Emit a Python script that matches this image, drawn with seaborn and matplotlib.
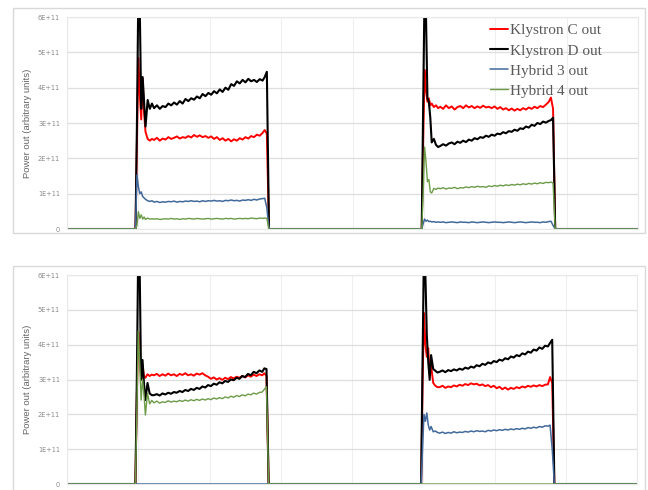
import matplotlib
matplotlib.use("Agg")
import matplotlib.pyplot as plt
import seaborn as sns
from matplotlib.patches import Rectangle
from matplotlib.ticker import FuncFormatter, MultipleLocator

# -------------------------------------------------------------------
# Data (power in units of 1E+11, time in samples)
# -------------------------------------------------------------------

X_MAX = 800
PULSE_STARTS = [96, 497]
PULSE_OFFSETS = [0, 2, 4, 6, 8, 10, 12, 14, 17, 20, 23,
                 26, 30, 34, 38, 42, 46, 50, 54, 58, 62, 66, 70, 74, 78,
                 82, 86, 90, 94, 98, 102, 106, 110, 114, 118, 122, 126,
                 130, 134, 138, 142, 146, 150, 154, 158, 162, 166, 170,
                 174, 178, 181, 184, 187]

SERIES_NAMES = ["Klystron C out", "Klystron D out", "Hybrid 3 out", "Hybrid 4 out"]
SERIES_COLORS = ["#FF0000", "#000000", "#41699B", "#6B9B47"]
SERIES_WIDTHS = [1.4, 1.5, 1.1, 1.0]

# top chart
TOP_KC_P1 = [0, 2.5, 4.84, 3.8, 3.1, 4.25, 3.3, 2.75, 2.55, 2.5, 2.55,
             2.52, 2.58, 2.50, 2.56, 2.53, 2.60, 2.55, 2.58, 2.62, 2.56,
             2.60, 2.58, 2.63, 2.59, 2.66, 2.61, 2.65, 2.60, 2.63, 2.58,
             2.62, 2.55, 2.60, 2.52, 2.57, 2.50, 2.55, 2.48, 2.54, 2.50,
             2.57, 2.53, 2.60, 2.56, 2.63, 2.60, 2.67, 2.64, 2.72,
             2.80, 2.7, 0]
TOP_KD_P1 = [0, 3.0, 6.8, 6.2, 3.4, 4.3, 3.6, 2.9, 3.65, 3.4, 3.55,
             3.42, 3.50, 3.40, 3.48, 3.45, 3.55, 3.50, 3.58, 3.52, 3.62,
             3.55, 3.68, 3.62, 3.70, 3.66, 3.75, 3.70, 3.82, 3.76, 3.85,
             3.80, 3.90, 3.84, 3.95, 3.88, 4.00, 3.94, 4.10, 4.05, 4.18,
             4.12, 4.22, 4.15, 4.25, 4.18, 4.22, 4.16, 4.24, 4.20,
             4.30, 4.45, 0]
TOP_H3_P1 = [0, 1.53, 1.2, 1.0, 1.05, 0.92, 0.88, 0.84, 0.80, 0.78, 0.80,
             0.76, 0.78, 0.75, 0.77, 0.76, 0.78, 0.77, 0.79, 0.76, 0.78,
             0.77, 0.79, 0.78, 0.80, 0.78, 0.79, 0.77, 0.80, 0.78, 0.80,
             0.79, 0.81, 0.79, 0.80, 0.78, 0.81, 0.80, 0.82, 0.80, 0.81,
             0.79, 0.82, 0.81, 0.83, 0.81, 0.84, 0.82, 0.85, 0.86,
             0.87, 0.6, 0]
TOP_H4_P1 = [0, 0.1, 0.49, 0.3, 0.4, 0.28, 0.34, 0.27, 0.31, 0.28, 0.29,
             0.28, 0.29, 0.27, 0.28, 0.29, 0.28, 0.30, 0.28, 0.29, 0.27,
             0.29, 0.28, 0.30, 0.29, 0.28, 0.30, 0.29, 0.28, 0.29, 0.30,
             0.28, 0.29, 0.30, 0.29, 0.28, 0.30, 0.29, 0.30, 0.28, 0.29,
             0.30, 0.29, 0.30, 0.29, 0.31, 0.30, 0.29, 0.31, 0.30,
             0.31, 0.30, 0]
TOP_KC_P2 = [0, 2.5, 4.5, 3.9, 3.6, 3.7, 3.5, 3.55, 3.45, 3.5, 3.42,
             3.46, 3.40, 3.50, 3.42, 3.47, 3.38, 3.45, 3.48, 3.42, 3.50,
             3.44, 3.48, 3.42, 3.47, 3.43, 3.49, 3.44, 3.46, 3.42, 3.47,
             3.40, 3.45, 3.38, 3.42, 3.36, 3.41, 3.35, 3.40, 3.36, 3.42,
             3.38, 3.44, 3.40, 3.46, 3.42, 3.48, 3.45, 3.52, 3.60,
             3.72, 3.4, 0]
TOP_KD_P2 = [0, 3.5, 6.8, 6.0, 3.7, 3.6, 3.15, 2.45, 2.55, 2.38, 2.32,
             2.35, 2.40, 2.36, 2.42, 2.45, 2.40, 2.47, 2.44, 2.50, 2.46,
             2.53, 2.50, 2.57, 2.54, 2.60, 2.58, 2.64, 2.61, 2.67, 2.64,
             2.70, 2.68, 2.74, 2.71, 2.77, 2.75, 2.81, 2.78, 2.85, 2.83,
             2.90, 2.87, 2.95, 2.92, 3.00, 2.97, 3.04, 3.01, 3.06,
             3.08, 3.15, 0]
TOP_H3_P2 = [0, 0.15, 0.28, 0.22, 0.25, 0.21, 0.22, 0.20, 0.21, 0.19, 0.20,
             0.19, 0.20, 0.18, 0.19, 0.20, 0.19, 0.18, 0.20, 0.19, 0.19,
             0.18, 0.20, 0.19, 0.18, 0.19, 0.20, 0.19, 0.18, 0.19, 0.20,
             0.19, 0.19, 0.18, 0.19, 0.20, 0.19, 0.18, 0.19, 0.20, 0.19,
             0.18, 0.19, 0.20, 0.19, 0.19, 0.18, 0.20, 0.19, 0.21,
             0.22, 0.1, 0]
TOP_H4_P2 = [0, 1.0, 2.32, 1.9, 1.34, 1.4, 1.05, 1.02, 1.15, 1.12, 1.16,
             1.14, 1.17, 1.13, 1.16, 1.15, 1.18, 1.14, 1.17, 1.16, 1.19,
             1.17, 1.20, 1.18, 1.21, 1.19, 1.20, 1.18, 1.22, 1.20, 1.23,
             1.21, 1.24, 1.22, 1.25, 1.23, 1.26, 1.24, 1.27, 1.25, 1.28,
             1.26, 1.29, 1.27, 1.30, 1.28, 1.31, 1.29, 1.32, 1.31,
             1.33, 1.30, 0]

# bottom chart (None = output stays at zero for that pulse)
BOT_KC_P1 = [0, 2.5, 4.37, 3.8, 2.99, 3.4, 3.1, 3.05, 3.15, 3.1, 3.14,
             3.12, 3.16, 3.10, 3.15, 3.11, 3.17, 3.12, 3.15, 3.10, 3.16,
             3.13, 3.18, 3.12, 3.15, 3.11, 3.17, 3.14, 3.18, 3.12, 3.08,
             3.02, 3.06, 3.00, 3.04, 2.99, 3.05, 3.01, 3.07, 3.03, 3.08,
             3.05, 3.10, 3.06, 3.12, 3.08, 3.14, 3.10, 3.15, 3.12,
             3.18, 3.1, 0]
BOT_KD_P1 = [0, 3.0, 6.8, 6.2, 3.0, 3.56, 2.9, 2.41, 2.9, 2.6, 2.55,
             2.55, 2.58, 2.54, 2.60, 2.57, 2.62, 2.59, 2.64, 2.62, 2.67,
             2.64, 2.70, 2.67, 2.73, 2.70, 2.76, 2.73, 2.80, 2.77, 2.84,
             2.81, 2.88, 2.85, 2.92, 2.89, 2.96, 2.93, 3.00, 2.98, 3.05,
             3.02, 3.10, 3.07, 3.16, 3.12, 3.22, 3.18, 3.26, 3.22,
             3.32, 3.3, 0]
BOT_H3_P1 = None
BOT_H4_P1 = [0, 2.0, 4.4, 3.5, 2.41, 3.0, 2.6, 1.98, 2.6, 2.3, 2.4,
             2.33, 2.38, 2.32, 2.36, 2.34, 2.39, 2.35, 2.38, 2.36, 2.40,
             2.37, 2.41, 2.38, 2.42, 2.39, 2.43, 2.40, 2.44, 2.41, 2.45,
             2.42, 2.47, 2.44, 2.48, 2.45, 2.50, 2.47, 2.52, 2.49, 2.54,
             2.51, 2.56, 2.53, 2.58, 2.56, 2.61, 2.58, 2.63, 2.64,
             2.72, 2.79, 0]
BOT_KC_P2 = [0, 2.8, 4.91, 4.0, 3.65, 3.9, 3.2, 3.4, 2.9, 2.82, 2.78,
             2.78, 2.82, 2.76, 2.80, 2.78, 2.83, 2.80, 2.85, 2.82, 2.87,
             2.84, 2.89, 2.86, 2.88, 2.83, 2.86, 2.81, 2.84, 2.78, 2.82,
             2.75, 2.79, 2.72, 2.77, 2.71, 2.76, 2.73, 2.78, 2.75, 2.80,
             2.77, 2.82, 2.79, 2.83, 2.80, 2.84, 2.81, 2.85, 2.86,
             3.07, 2.9, 0]
BOT_KD_P2 = [0, 3.5, 6.8, 6.0, 4.28, 3.5, 2.99, 3.7, 3.3, 3.25, 3.2,
             3.22, 3.26, 3.21, 3.27, 3.24, 3.29, 3.26, 3.31, 3.28, 3.34,
             3.31, 3.37, 3.34, 3.41, 3.38, 3.45, 3.42, 3.49, 3.46, 3.53,
             3.50, 3.57, 3.54, 3.61, 3.58, 3.66, 3.63, 3.70, 3.67, 3.75,
             3.72, 3.80, 3.77, 3.86, 3.83, 3.92, 3.88, 3.97, 3.95,
             4.05, 4.14, 0]
BOT_H3_P2 = [0, 1.0, 2.0, 1.8, 2.04, 1.7, 1.55, 1.65, 1.5, 1.52, 1.48,
             1.46, 1.49, 1.45, 1.48, 1.46, 1.50, 1.47, 1.49, 1.48, 1.51,
             1.49, 1.52, 1.50, 1.53, 1.51, 1.52, 1.50, 1.54, 1.52, 1.55,
             1.53, 1.56, 1.54, 1.57, 1.55, 1.58, 1.56, 1.59, 1.57, 1.60,
             1.58, 1.62, 1.60, 1.63, 1.61, 1.65, 1.63, 1.67, 1.66,
             1.69, 1.0, 0]
BOT_H4_P2 = None

TOP_PULSES = [[TOP_KC_P1, TOP_KC_P2], [TOP_KD_P1, TOP_KD_P2],
              [TOP_H3_P1, TOP_H3_P2], [TOP_H4_P1, TOP_H4_P2]]
BOT_PULSES = [[BOT_KC_P1, BOT_KC_P2], [BOT_KD_P1, BOT_KD_P2],
              [BOT_H3_P1, BOT_H3_P2], [BOT_H4_P1, BOT_H4_P2]]

Y_TICKS = [0, 1, 2, 3, 4, 5, 6]


def build_series(pulses):
    """Join the pulses of one output into a single trace on a zero baseline."""
    t = [0.0]
    v = [0.0]
    for start, vals in zip(PULSE_STARTS, pulses):
        if vals is None:
            continue
        assert len(vals) == len(PULSE_OFFSETS)
        t += [start + o for o in PULSE_OFFSETS]
        v += [x * 1e11 for x in vals]
    t.append(X_MAX)
    v.append(0.0)
    return t, v


def style_axes(ax):
    ax.set_xlim(0, X_MAX)
    ax.set_ylim(0, 6e11)
    ax.set_yticks([y * 1e11 for y in Y_TICKS])
    ax.yaxis.set_major_formatter(
        FuncFormatter(lambda v, _: "0" if v == 0 else f"{v:.0E}")
    )
    ax.xaxis.set_major_locator(MultipleLocator(100))
    ax.set_xticklabels([])
    ax.grid(axis="y", color="#DEDEDE", lw=0.9)
    ax.grid(axis="x", color="#EFEFEF", lw=0.8)
    ax.tick_params(length=0, labelsize=4.8, labelcolor="#8A8A8A", pad=5)
    for s in ax.spines.values():
        s.set_color("#E8E8E8")
        s.set_linewidth(0.8)
    ax.set_xlabel("")
    ax.set_ylabel("Power out (arbitrary units)", fontsize=6.8,
                  color="#666666", family="Liberation Sans", labelpad=4)


def draw_panel(ax, pulse_sets, legend):
    for name, color, lw, pulses in zip(SERIES_NAMES, SERIES_COLORS,
                                       SERIES_WIDTHS, pulse_sets):
        t, v = build_series(pulses)
        sns.lineplot(x=t, y=v, ax=ax, color=color, lw=lw, sort=False,
                     estimator=None, label=name if legend else None)
    style_axes(ax)
    if legend:
        ax.legend(loc="upper left", bbox_to_anchor=(0.727, 1.004),
                  frameon=False, borderpad=0, handlelength=1.2,
                  handletextpad=0.15, labelspacing=0.42,
                  prop={"family": "Liberation Serif", "size": 11},
                  labelcolor="#595959")
    elif ax.get_legend() is not None:
        ax.get_legend().remove()


def main():
    sns.set_theme(style="white")
    W, H = 648, 490
    fig = plt.figure(figsize=(W / 100, H / 100), dpi=100)

    # chart frames
    fig.patches.append(Rectangle((13 / W, 1 - 233 / H), 632 / W, 225 / H,
                                 transform=fig.transFigure, fill=False,
                                 ec="#D9D9D9", lw=1.0))
    fig.patches.append(Rectangle((13 / W, 1 - 493 / H), 632 / W, 227 / H,
                                 transform=fig.transFigure, fill=False,
                                 ec="#D9D9D9", lw=1.0))

    ax_top = fig.add_axes([67 / W, 1 - 229 / H, 571 / W, 212 / H])
    ax_bot = fig.add_axes([67 / W, 1 - 484 / H, 570 / W, 209 / H])

    draw_panel(ax_top, TOP_PULSES, legend=True)
    draw_panel(ax_bot, BOT_PULSES, legend=False)

    fig.savefig("out.png", dpi=100)
    plt.close(fig)


if __name__ == "__main__":
    main()
